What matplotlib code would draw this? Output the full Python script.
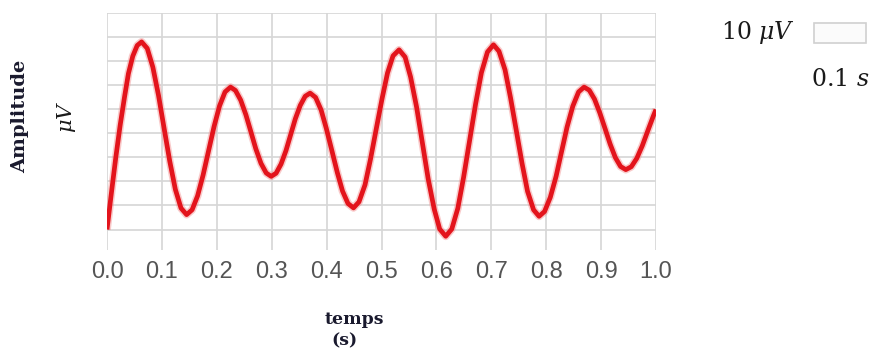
import matplotlib
matplotlib.use("Agg")
import matplotlib.pyplot as plt
from matplotlib.patches import Rectangle

# time (s) and amplitude (µV, grid units)
t = [0.000, 0.008, 0.016, 0.024, 0.032, 0.039, 0.047, 0.055, 0.063,
     0.0733, 0.0835, 0.0938, 0.104, 0.1143, 0.1245, 0.1348, 0.145,
     0.155, 0.165, 0.175, 0.185, 0.195, 0.205, 0.215, 0.225,
     0.234, 0.2435, 0.253, 0.262, 0.271, 0.2805, 0.290, 0.299,
     0.308, 0.317, 0.326, 0.3345, 0.343, 0.352, 0.361, 0.370,
     0.380, 0.390, 0.3995, 0.4095, 0.4195, 0.429, 0.439, 0.449,
     0.459, 0.470, 0.480, 0.4905, 0.501, 0.511, 0.521, 0.532,
     0.543, 0.553, 0.564, 0.5745, 0.585, 0.596, 0.606, 0.617,
     0.628, 0.639, 0.6496, 0.6605, 0.6714, 0.682, 0.693, 0.704,
     0.714, 0.725, 0.735, 0.7455, 0.756, 0.766, 0.777, 0.787,
     0.797, 0.8075, 0.818, 0.828, 0.838, 0.8485, 0.859, 0.869,
     0.8785, 0.888, 0.8975, 0.907, 0.9165, 0.926, 0.9355, 0.945,
     0.955, 0.965, 0.975, 0.985, 0.995, 1.000]
amp = [0.00, 1.52, 2.99, 4.34, 5.52, 6.48, 7.21, 7.65, 7.80,
       7.53, 6.75, 5.58, 4.21, 2.84, 1.67, 0.89, 0.62,
       0.82, 1.40, 2.26, 3.27, 4.28, 5.14, 5.72, 5.92,
       5.78, 5.38, 4.77, 4.07, 3.36, 2.75, 2.35, 2.21,
       2.34, 2.72, 3.28, 3.94, 4.60, 5.16, 5.54, 5.67,
       5.49, 4.97, 4.20, 3.29, 2.37, 1.60, 1.08, 0.90,
       1.15, 1.86, 2.93, 4.19, 5.44, 6.51, 7.22, 7.47,
       7.17, 6.34, 5.08, 3.60, 2.11, 0.85, 0.02, -0.28,
       0.02, 0.88, 2.18, 3.70, 5.22, 6.52, 7.38, 7.68,
       7.41, 6.64, 5.48, 4.12, 2.75, 1.59, 0.82, 0.55,
       0.75, 1.34, 2.21, 3.24, 4.26, 5.13, 5.72, 5.92,
       5.79, 5.42, 4.86, 4.21, 3.55, 2.99, 2.62, 2.49,
       2.61, 2.96, 3.48, 4.10, 4.71, 4.99]

xticks = [0.0, 0.1, 0.2, 0.3, 0.4, 0.5, 0.6, 0.7, 0.8, 0.9, 1.0]
xticklabels = ["0.0", "0.1", "0.2", "0.3", "0.4", "0.5", "0.6", "0.7", "0.8", "0.9", "1.0"]
ygrid = [0, 1, 2, 3, 4, 5, 6, 7, 8, 9]

W, H = 872, 352
plt.rcParams["mathtext.fontset"] = "dejavuserif"
fig = plt.figure(figsize=(W / 100, H / 100), dpi=100)
fig.patch.set_facecolor("white")

def fx(px):
    return px / W

def fy(py):
    return 1 - py / H

ax = fig.add_axes([fx(107), fy(250), fx(656) - fx(107), fy(13) - fy(250)])
ax.set_xlim(0, 1)
ax.set_ylim(-0.85, 9)
for s in ax.spines.values():
    s.set_visible(False)
ax.set_xticks(xticks)
ax.set_xticklabels(xticklabels, fontsize=17, color="#555555",
                   family=["Liberation Sans", "DejaVu Sans"])
ax.set_yticks(ygrid)
ax.set_yticklabels([])
ax.tick_params(axis="both", length=0)
ax.tick_params(axis="x", pad=8)
ax.grid(True, color="#d6d6d6", linewidth=1.2)
ax.set_axisbelow(True)

ax.plot(t, amp, color="#f28a8a", linewidth=5.6, alpha=0.45, solid_joinstyle="round",
        solid_capstyle="butt", zorder=3)
ax.plot(t, amp, color="#e3141c", linewidth=3.4, solid_joinstyle="round",
        solid_capstyle="butt", zorder=4)

serif = ["DejaVu Serif"]
fig.text(fx(20), fy(116), "Amplitude", rotation=90, ha="center", va="center",
         fontsize=14, fontweight="bold", family=serif, color="#1a1a2e")
fig.text(fx(67), fy(117), r"$\mu V$", rotation=90, ha="center", va="center",
         fontsize=15, color="#1a1a1a")
fig.text(fx(354), fy(320), "temps", ha="center", va="center",
         fontsize=12.5, fontweight="bold", family=serif, color="#1a1a2e")
fig.text(fx(344), fy(341), "(s)", ha="center", va="center",
         fontsize=12.5, fontweight="bold", family=serif, color="#1a1a2e")

fig.text(fx(721), fy(33), r"10 $\mu V$", ha="left", va="center",
         fontsize=17, family=serif, color="#1a1a1a")
fig.text(fx(811), fy(79), r"0.1 $s$", ha="left", va="center",
         fontsize=17, family=serif, color="#1a1a1a")
fig.patches.append(Rectangle((fx(814), fy(43)), fx(866) - fx(814), fy(23) - fy(43),
                             transform=fig.transFigure, facecolor="#fbfbfb",
                             edgecolor="#d0d0d0", linewidth=1.2))

fig.savefig("out.png", dpi=100)
